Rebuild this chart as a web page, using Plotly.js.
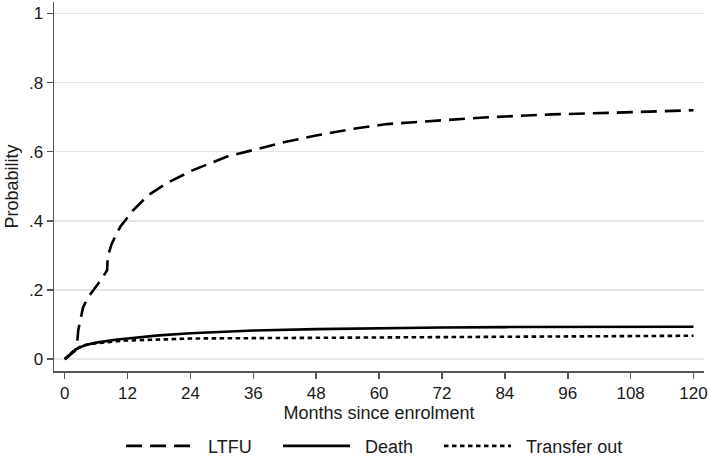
<!DOCTYPE html>
<html>
<head>
<meta charset="utf-8">
<script src="https://cdn.plot.ly/plotly-3.0.1.min.js"></script>
<style>html,body{margin:0;padding:0;background:#fff;}#chart{width:709px;height:459px;}</style>
</head>
<body>
<div id="chart"></div>
<script>
// Cumulative incidence (probability) by months since enrolment
const ltfuMonths = [0, 1, 2, 2.3, 2.6, 3.5, 4.5, 5.5, 6.5, 7.4, 8.1, 8.2, 9, 10.6, 13, 16, 19.5, 24.5, 31, 36, 42, 48, 55, 61.5, 68, 74, 80, 87, 93, 105, 110, 120];
const ltfuProb   = [0, 0.012, 0.025, 0.035, 0.085, 0.15, 0.18, 0.20, 0.22, 0.24, 0.258, 0.297, 0.335, 0.383, 0.43, 0.475, 0.509, 0.547, 0.586, 0.605, 0.628, 0.647, 0.666, 0.68, 0.687, 0.693, 0.699, 0.704, 0.708, 0.713, 0.716, 0.72];

const deathMonths = [0, 1, 2, 3, 4, 6, 8, 10, 12, 15, 18, 24, 30, 36, 48, 60, 72, 84, 96, 108, 120];
const deathProb   = [0, 0.015, 0.027, 0.035, 0.041, 0.048, 0.053, 0.057, 0.06, 0.065, 0.069, 0.075, 0.08, 0.083, 0.087, 0.09, 0.092, 0.093, 0.094, 0.094, 0.094];

const transferMonths = [0, 1, 2, 3, 4, 6, 8, 10, 12, 18, 24, 36, 48, 60, 72, 84, 96, 108, 120];
const transferProb   = [0, 0.015, 0.028, 0.036, 0.041, 0.046, 0.05, 0.052, 0.054, 0.058, 0.06, 0.061, 0.062, 0.063, 0.065, 0.066, 0.067, 0.068, 0.068];

const seriesNames = ["LTFU", "Death", "Transfer out"];
const xTicks = [0, 12, 24, 36, 48, 60, 72, 84, 96, 108, 120];
const yTickVals = [0, 0.2, 0.4, 0.6, 0.8, 1];
const yTickText = ["0", ".2", ".4", ".6", ".8", "1"];

const fam = "Liberation Sans, Arial, sans-serif";
const tickFont = {family: fam, size: 17, color: "#1a1a1a"};
const titleFont = {family: fam, size: 18, color: "#1a1a1a"};
const legFont = {family: fam, size: 18, color: "#1a1a1a"};
const gap = "\u00a0\u00a0";

const traces = [
  {x: ltfuMonths, y: ltfuProb, name: gap + seriesNames[0], mode: "lines", legend: "legend",
   line: {color: "#000", width: 2.6, dash: "16px,8px"}},
  {x: deathMonths, y: deathProb, name: gap + seriesNames[1], mode: "lines", legend: "legend2",
   line: {color: "#000", width: 2.6}},
  {x: transferMonths, y: transferProb, name: gap + seriesNames[2], mode: "lines", legend: "legend3",
   line: {color: "#000", width: 2.6, dash: "4.5px,3.5px"}}
];

function leg(xpx) {
  return {orientation: "h", xref: "container", yref: "container", x: xpx / 709, y: 0.028,
          xanchor: "left", yanchor: "middle", itemwidth: 67, font: legFont, bgcolor: "rgba(0,0,0,0)"};
}

const layout = {
  width: 709, height: 459,
  margin: {l: 54, r: 5, t: 2, b: 88},
  paper_bgcolor: "#fff", plot_bgcolor: "#fff",
  font: tickFont,
  showlegend: true,
  legend: leg(121),
  legend2: leg(278),
  legend3: leg(439),
  xaxis: {range: [-2.04, 122], tickvals: xTicks, ticktext: xTicks.map(String),
          showgrid: false, zeroline: false, showline: true, linecolor: "#555", linewidth: 1.5,
          ticks: "outside", ticklen: 6, tickcolor: "#555", tickwidth: 1.5,
          tickfont: tickFont, title: {text: "Months since enrolment", font: titleFont, standoff: 1}},
  yaxis: {range: [-0.034, 1.033], tickvals: yTickVals, ticktext: yTickText,
          showgrid: true, gridcolor: "#e6e6e6", gridwidth: 1.5, zeroline: false,
          showline: true, linecolor: "#555", linewidth: 1.5,
          ticks: "outside", ticklen: 6, tickcolor: "#555", tickwidth: 1.5,
          tickfont: tickFont, title: {text: "Probability", font: titleFont, standoff: 5}}
};

Plotly.newPlot("chart", traces, layout, {displayModeBar: false, staticPlot: true});
</script>
</body>
</html>
